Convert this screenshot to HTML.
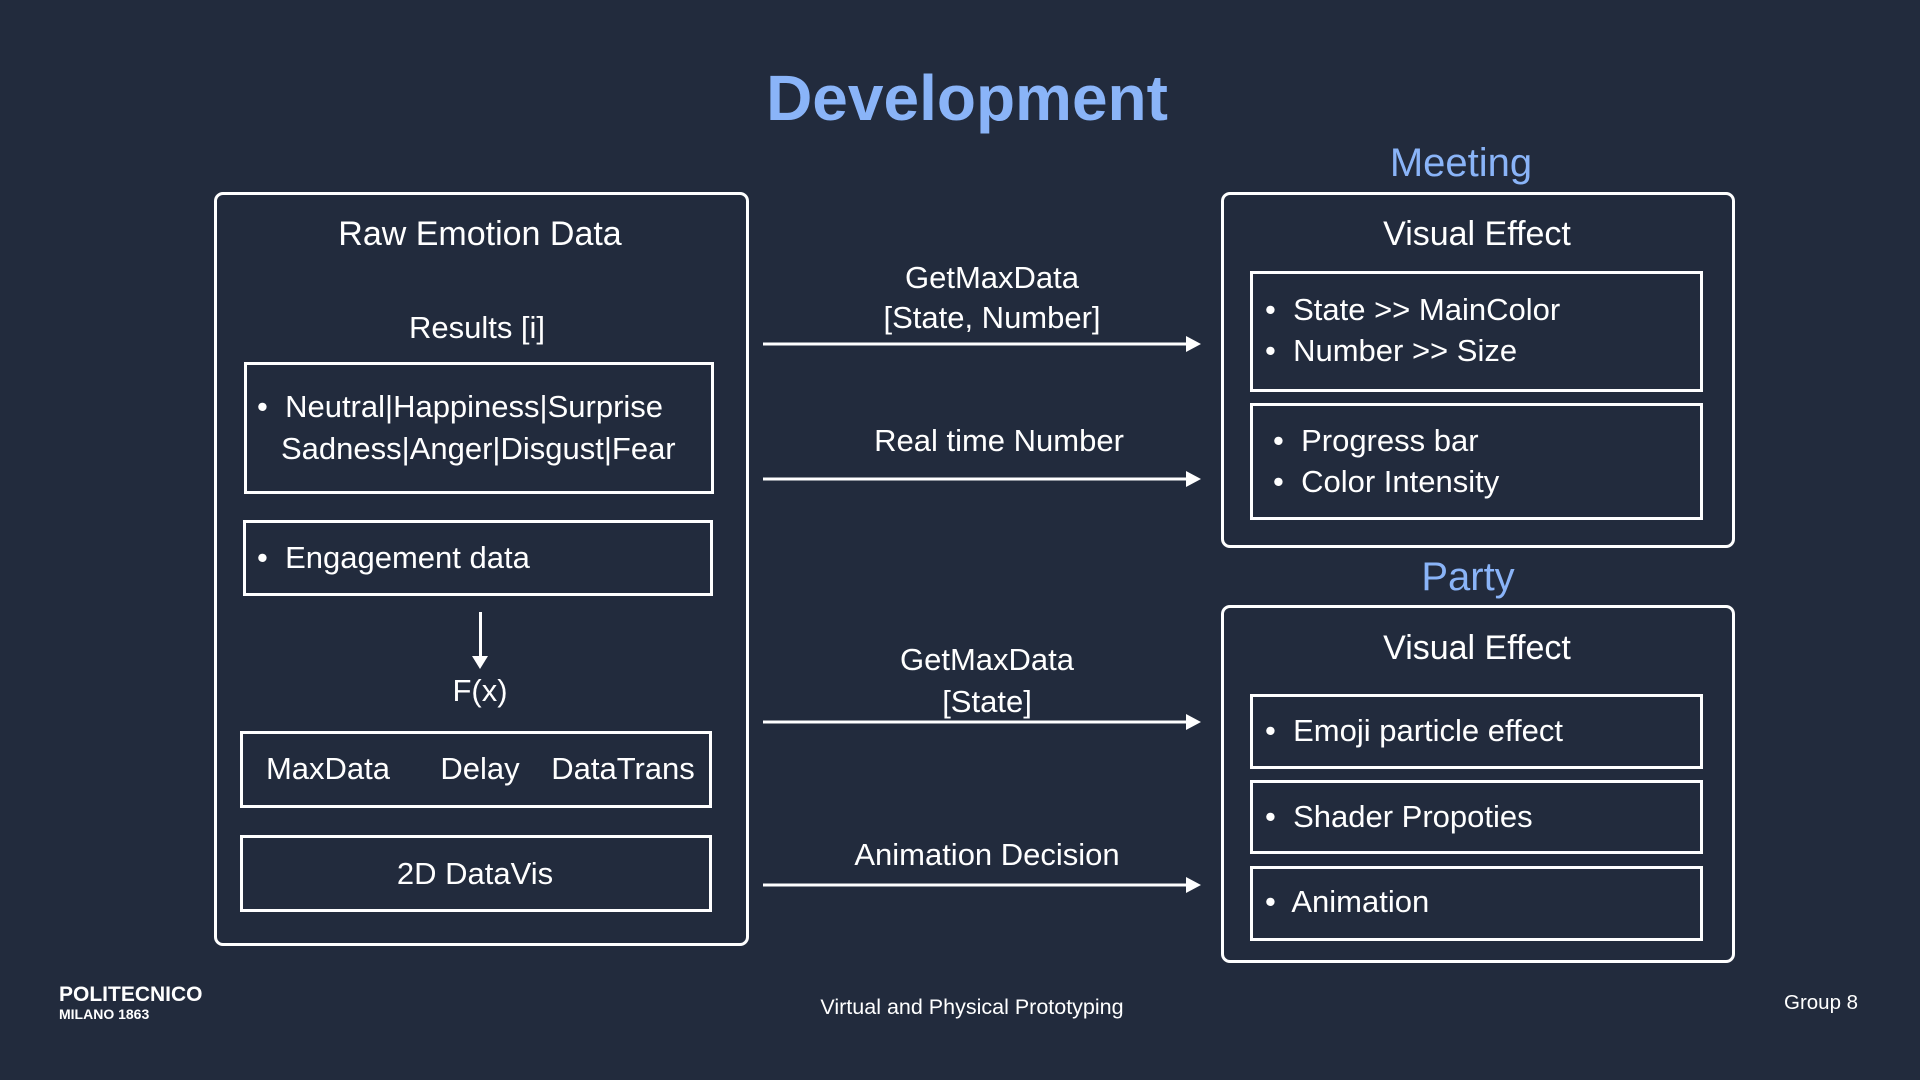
<!DOCTYPE html>
<html><head><meta charset="utf-8"><style>
*{margin:0;padding:0;box-sizing:border-box}
body{width:1920px;height:1080px;background:#222b3d;position:relative;overflow:hidden;font-family:"Liberation Sans",sans-serif;color:#fff}
.t{position:absolute;height:40px;line-height:40px;white-space:nowrap;font-size:31px}
.c{transform:translateX(-50%)}
.b{position:absolute;border:3px solid #fff}
.r{border-radius:9px}
.blue{color:#8ab4f8}
</style></head><body>
<div class="t c blue" style="left:967px;top:63px;height:70px;line-height:70px;font-size:64px;font-weight:bold">Development</div>

<div class="b r" style="left:214px;top:192px;width:535px;height:754px"></div>
<div class="t c" style="left:480px;top:214px;font-size:34px">Raw Emotion Data</div>
<div class="t c" style="left:477px;top:308px">Results [i]</div>
<div class="b" style="left:244px;top:362px;width:470px;height:132px"></div>
<div class="t" style="left:257px;top:387px">•&nbsp; Neutral|Happiness|Surprise</div>
<div class="t" style="left:281px;top:429px">Sadness|Anger|Disgust|Fear</div>
<div class="b" style="left:243px;top:520px;width:470px;height:76px"></div>
<div class="t" style="left:257px;top:538px">•&nbsp; Engagement data</div>
<div style="position:absolute;left:479px;top:612px;width:3px;height:48px;background:#fff"></div>
<div style="position:absolute;left:472px;top:656px;width:0;height:0;border-left:8px solid transparent;border-right:8px solid transparent;border-top:13px solid #fff"></div>
<div class="t c" style="left:480px;top:671px">F(x)</div>
<div class="b" style="left:240px;top:731px;width:472px;height:77px"></div>
<div class="t c" style="left:328px;top:749px">MaxData</div>
<div class="t c" style="left:480px;top:749px">Delay</div>
<div class="t c" style="left:623px;top:749px">DataTrans</div>
<div class="b" style="left:240px;top:835px;width:472px;height:77px"></div>
<div class="t c" style="left:475px;top:854px">2D DataVis</div>

<svg style="position:absolute;left:0;top:0" width="1920" height="1080">
<g stroke="#fff" stroke-width="3">
<line x1="763" y1="344" x2="1188" y2="344"/>
<line x1="763" y1="479" x2="1188" y2="479"/>
<line x1="763" y1="722" x2="1188" y2="722"/>
<line x1="763" y1="885" x2="1188" y2="885"/>
</g>
<g fill="#fff">
<polygon points="1186,336 1201,344 1186,352"/>
<polygon points="1186,471 1201,479 1186,487"/>
<polygon points="1186,714 1201,722 1186,730"/>
<polygon points="1186,877 1201,885 1186,893"/>
</g>
</svg>
<div class="t c" style="left:992px;top:258px">GetMaxData</div>
<div class="t c" style="left:992px;top:298px">[State, Number]</div>
<div class="t c" style="left:999px;top:421px">Real time Number</div>
<div class="t c" style="left:987px;top:640px">GetMaxData</div>
<div class="t c" style="left:987px;top:682px">[State]</div>
<div class="t c" style="left:987px;top:835px">Animation Decision</div>

<div class="t c blue" style="left:1461px;top:139px;height:48px;line-height:48px;font-size:40px">Meeting</div>
<div class="b r" style="left:1221px;top:192px;width:514px;height:356px"></div>
<div class="t c" style="left:1477px;top:214px;font-size:34px">Visual Effect</div>
<div class="b" style="left:1250px;top:271px;width:453px;height:121px"></div>
<div class="t" style="left:1265px;top:290px">•&nbsp; State &gt;&gt; MainColor</div>
<div class="t" style="left:1265px;top:331px">•&nbsp; Number &gt;&gt; Size</div>
<div class="b" style="left:1250px;top:403px;width:453px;height:117px"></div>
<div class="t" style="left:1273px;top:421px">•&nbsp; Progress bar</div>
<div class="t" style="left:1273px;top:462px">•&nbsp; Color Intensity</div>

<div class="t c blue" style="left:1468px;top:553px;height:48px;line-height:48px;font-size:40px">Party</div>
<div class="b r" style="left:1221px;top:605px;width:514px;height:358px"></div>
<div class="t c" style="left:1477px;top:628px;font-size:34px">Visual Effect</div>
<div class="b" style="left:1250px;top:694px;width:453px;height:75px"></div>
<div class="t" style="left:1265px;top:711px">•&nbsp; Emoji particle effect</div>
<div class="b" style="left:1250px;top:780px;width:453px;height:74px"></div>
<div class="t" style="left:1265px;top:797px">•&nbsp; Shader Propoties</div>
<div class="b" style="left:1250px;top:866px;width:453px;height:75px"></div>
<div class="t" style="left:1265px;top:882px">•&nbsp; Animation</div>

<div class="t" style="left:59px;top:983px;height:24px;line-height:24px;font-size:21px;font-weight:bold">POLITECNICO</div>
<div class="t" style="left:59px;top:1006px;height:16px;line-height:16px;font-size:14px;font-weight:bold">MILANO 1863</div>
<div class="t c" style="left:972px;top:995px;height:24px;line-height:24px;font-size:21.5px">Virtual and Physical Prototyping</div>
<div class="t" style="left:1784px;top:991px;height:24px;line-height:24px;font-size:20.5px">Group 8</div>
</body></html>
